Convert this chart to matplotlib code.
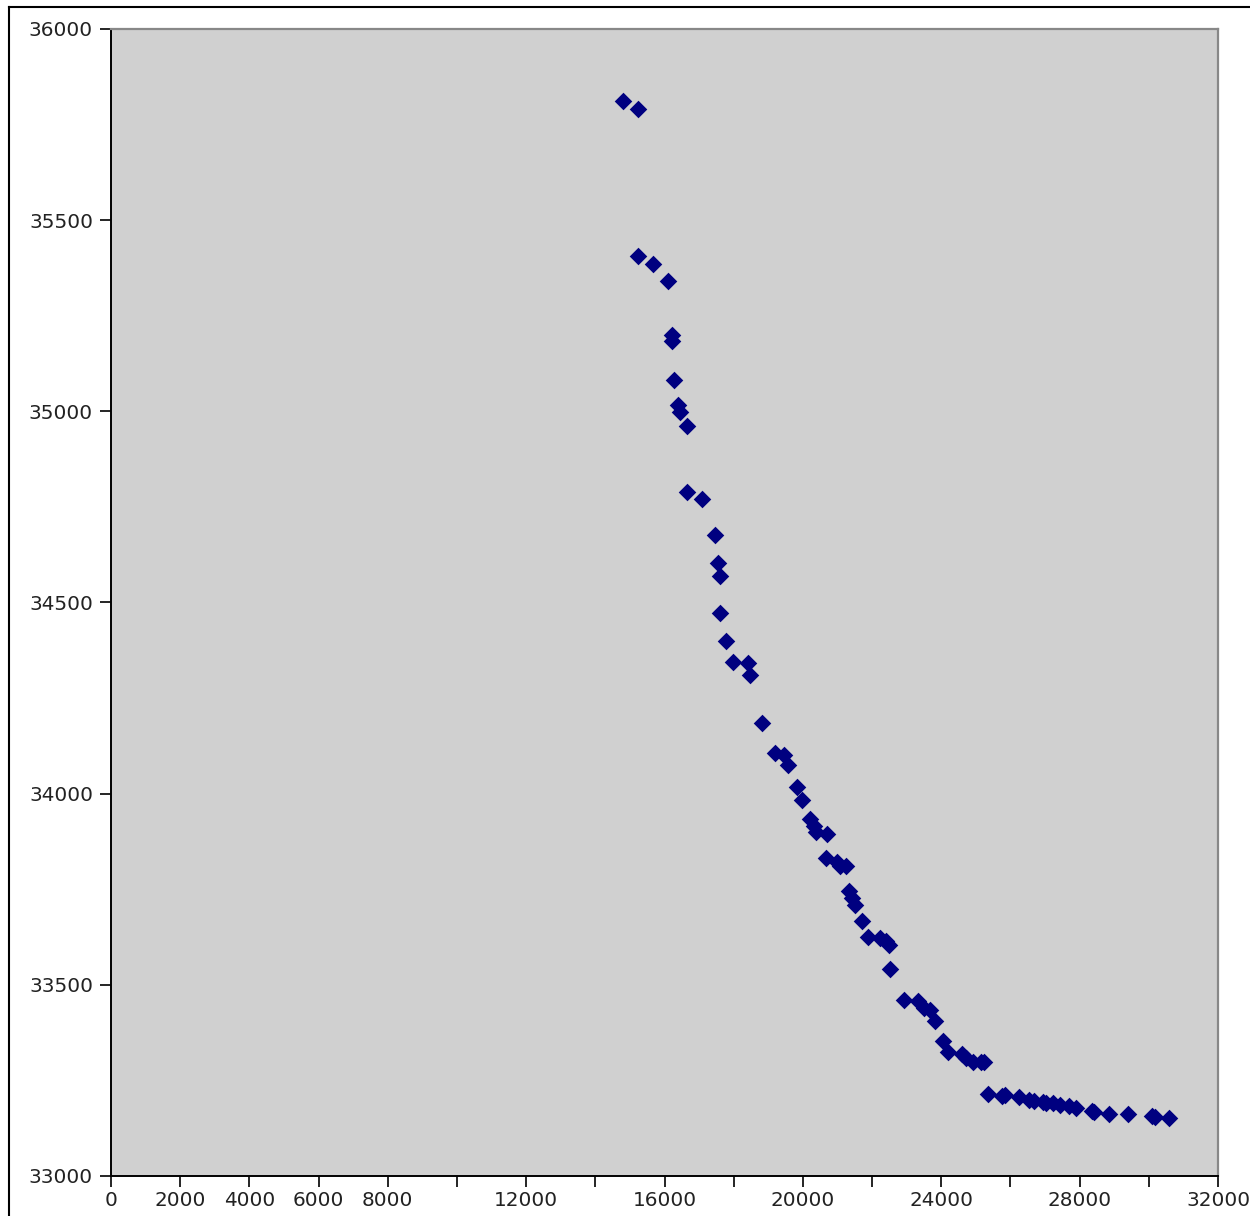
import numpy as np
import matplotlib
matplotlib.use('Agg')
import matplotlib.pyplot as plt
from matplotlib.lines import Line2D
from matplotlib.ticker import FixedLocator, FixedFormatter

# 数据点
x_vals = [14800, 15234, 15234, 15668, 16101, 16217, 16217, 16275, 16390, 16448,
          16650, 16650, 17084, 17460, 17547, 17605, 17605, 17778, 17981, 18414,
          18472, 18819, 19194, 19454, 19570, 19830, 19974, 20206, 20321, 20379,
          20697, 20668, 20986, 21073, 21246, 21333, 21420, 21507, 21709, 21883,
          22230, 22403, 22490, 22518, 22923, 23328, 23502, 23675, 23819, 24050,
          24195, 24600, 24715, 24918, 25149, 25236, 25351, 25756, 25830, 26247,
          26536, 26681, 26941, 27030, 27230, 27430, 27690, 27900, 28357, 28420,
          28849, 29398, 30092, 30180, 30584]
y_vals = [35812, 35791, 35406, 35385, 35341, 35200, 35184, 35082, 35017, 34998,
          34962, 34789, 34771, 34677, 34603, 34569, 34473, 34399, 34344, 34342,
          34310, 34185, 34106, 34101, 34075, 34017, 33983, 33934, 33915, 33900,
          33895, 33832, 33821, 33811, 33811, 33745, 33727, 33709, 33667, 33625,
          33622, 33615, 33604, 33541, 33460, 33458, 33439, 33434, 33405, 33353,
          33324, 33319, 33309, 33298, 33298, 33298, 33214, 33209, 33211, 33206,
          33199, 33196, 33194, 33192, 33190, 33186, 33183, 33178, 33170, 33167,
          33162, 33162, 33157, 33155, 33152]

x_ticks = list(range(0, 32001, 2000))
x_labels = ['0', '2000', '4000', '6000', '8000', '', '12000', '', '16000', '',
            '20000', '', '24000', '', '28000', '', '32000']
y_ticks = list(range(33000, 36001, 500))

fig = plt.figure(figsize=(12.5, 12.16), dpi=100)
ax = fig.add_axes([0.0888, 0.0329, 0.8856, 0.9433])
ax.set_facecolor('#d0d0d0')

ax.scatter(x_vals, y_vals, marker='D', s=80, c='#000080', linewidths=0, zorder=3)

ax.set_xlim(0, 32000)
ax.set_ylim(33000, 36000)
ax.xaxis.set_major_locator(FixedLocator(x_ticks))
ax.xaxis.set_major_formatter(FixedFormatter(x_labels))
ax.set_yticks(y_ticks)
ax.tick_params(direction='out', length=8, width=1.2, labelsize=14.4, colors='black',
               labelcolor='#222222')
ax.tick_params(axis='y', pad=5)
ax.tick_params(axis='x', pad=3)

# 边框样式
for s in ['left', 'bottom']:
    ax.spines[s].set_color('black')
    ax.spines[s].set_linewidth(1.4)
for s in ['top', 'right']:
    ax.spines[s].set_color('#888888')
    ax.spines[s].set_linewidth(1.6)

# 外框线
fig.add_artist(Line2D([9/1250, 9/1250], [0, 1 - 7/1216], color='black', lw=1.5))
fig.add_artist(Line2D([9/1250, 1], [1 - 7/1216, 1 - 7/1216], color='black', lw=1.5))

fig.savefig('out.png', dpi=100)
